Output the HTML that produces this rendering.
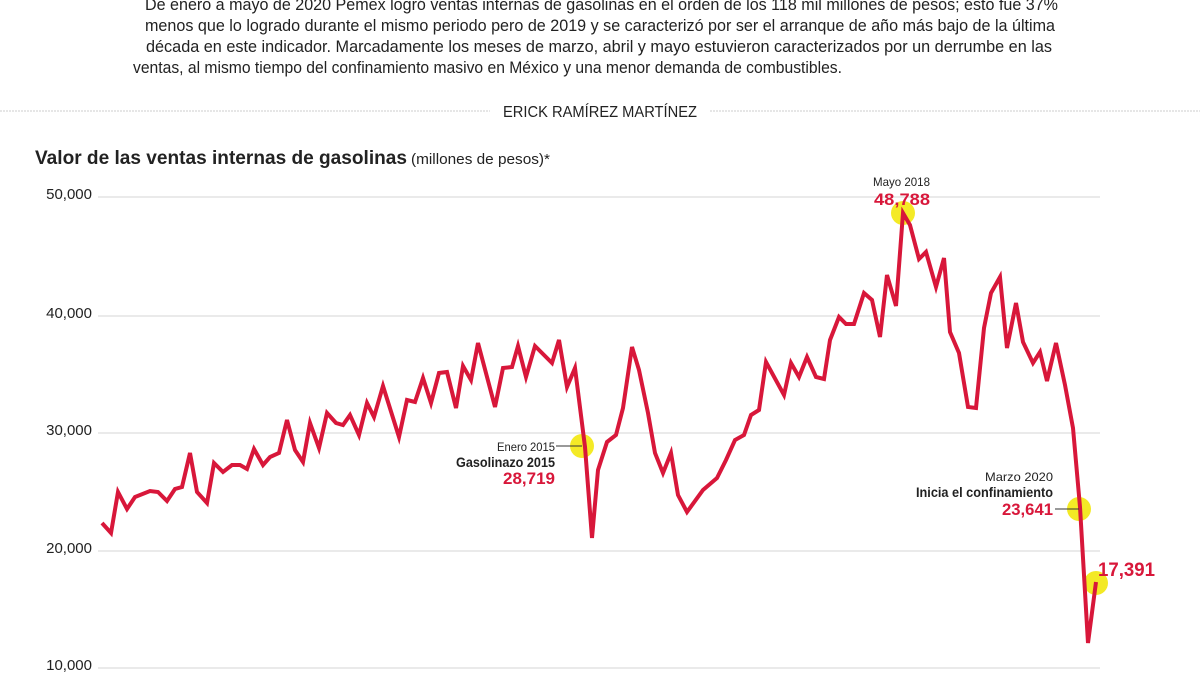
<!DOCTYPE html>
<html><head><meta charset="utf-8"><style>
html,body{margin:0;padding:0;background:#fff;}
body{width:1200px;height:675px;position:relative;overflow:hidden;font-family:"Liberation Sans",sans-serif;}
</style></head><body>
<svg width="1200" height="675" style="position:absolute;left:0;top:0" font-family="Liberation Sans, sans-serif">
<g font-size="17" fill="#222" lengthAdjust="spacingAndGlyphs">
<text x="145" y="10" textLength="913" lengthAdjust="spacingAndGlyphs">De enero a mayo de 2020 Pemex logró ventas internas de gasolinas en el orden de los 118 mil millones de pesos; esto fue 37%</text>
<text x="145" y="31" textLength="910" lengthAdjust="spacingAndGlyphs">menos que lo logrado durante el mismo periodo pero de 2019 y se caracterizó por ser el arranque de año más bajo de la última</text>
<text x="146" y="52" textLength="906" lengthAdjust="spacingAndGlyphs">década en este indicador. Marcadamente los meses de marzo, abril y mayo  estuvieron caracterizados por un derrumbe en las</text>
<text x="133" y="73" textLength="709" lengthAdjust="spacingAndGlyphs">ventas, al mismo tiempo del confinamiento masivo en México y una menor demanda de combustibles.</text>
</g>
<line x1="0" y1="111" x2="490" y2="111" stroke="#ccc" stroke-width="1" stroke-dasharray="2,1"/>
<line x1="710" y1="111" x2="1200" y2="111" stroke="#ccc" stroke-width="1" stroke-dasharray="2,1"/>
<text x="503" y="117" textLength="194" lengthAdjust="spacingAndGlyphs" font-size="16" fill="#222">ERICK RAMÍREZ MARTÍNEZ</text>
<text x="35" y="164" textLength="372" lengthAdjust="spacingAndGlyphs" font-size="19" font-weight="bold" fill="#222">Valor de las ventas internas de gasolinas</text>
<text x="411" y="164" textLength="139" lengthAdjust="spacingAndGlyphs" font-size="15" fill="#222">(millones de pesos)*</text>
<g stroke="#d6d6d6" stroke-width="1">
<line x1="98" y1="197" x2="1100" y2="197"/><line x1="98" y1="316" x2="1100" y2="316"/>
<line x1="98" y1="433" x2="1100" y2="433"/><line x1="98" y1="551" x2="1100" y2="551"/>
<line x1="98" y1="668" x2="1100" y2="668"/></g>
<g font-size="15" fill="#222" text-anchor="end">
<text x="92" y="199">50,000</text><text x="92" y="318">40,000</text><text x="92" y="435">30,000</text><text x="92" y="553">20,000</text><text x="92" y="670">10,000</text></g>
<g fill="#f2e600" opacity="0.85">
<circle cx="582" cy="446" r="12"/><circle cx="903" cy="213" r="12"/><circle cx="1079" cy="509" r="12"/><circle cx="1096" cy="583" r="12"/></g>
<polyline fill="none" stroke="#d8173a" stroke-width="4" points="102,523 111,533 118,492 127,509 135,497 150,491 158,492 167,501 175,489 182,487 190,453 197,492 207,503 214,463 223,472 232,465 240,465 247,469 254,449 263,465 270,457 279,453 287,420 295,450 303,462 310,423 319,448 327,413 336,423 343,425 350,415 359,435 367,403 374,417 383,386 399,437 407,400 415,402 423,378 431,403 439,373 447,372 456,408 463,366 471,380 478,343 495,407 503,368 512,367 518,346 526,377 535,346 552,363 559,340 567,387 575,368 585,447 592,538 598,470 607,442 616,435 623,408 632,347 639,370 648,413 655,453 663,473 671,453 678,495 687,512 703,490 717,478 726,460 735,440 744,435 751,415 759,410 766,362 784,395 791,363 799,377 807,357 816,377 824,379 830,340 839,317 846,324 854,324 864,293 872,300 880,337 887,275 896,306 903,213 910,225 919,259 926,252 936,287 944,258 950,332 959,353 968,407 976,408 984,328 991,293 1000,277 1007,348 1016,303 1023,342 1033,363 1040,352 1047,381 1056,343 1065,385 1073,428 1080,507 1088,643 1096,582"/>
<line x1="556" y1="446" x2="582" y2="446" stroke="#333" stroke-width="1"/>
<text x="497" y="451" textLength="58" lengthAdjust="spacingAndGlyphs" font-size="12" fill="#222">Enero 2015</text>
<text x="456" y="467" textLength="99" lengthAdjust="spacingAndGlyphs" font-size="14" font-weight="bold" fill="#222">Gasolinazo 2015</text>
<text x="503" y="484" textLength="52" lengthAdjust="spacingAndGlyphs" font-size="17" font-weight="bold" fill="#d8173a">28,719</text>
<text x="873" y="186" textLength="57" lengthAdjust="spacingAndGlyphs" font-size="12" fill="#222">Mayo 2018</text>
<text x="874" y="205" textLength="56" lengthAdjust="spacingAndGlyphs" font-size="17" font-weight="bold" fill="#d8173a">48,788</text>
<text x="985" y="481" textLength="68" lengthAdjust="spacingAndGlyphs" font-size="12" fill="#222">Marzo 2020</text>
<text x="916" y="497" textLength="137" lengthAdjust="spacingAndGlyphs" font-size="14" font-weight="bold" fill="#222">Inicia el confinamiento</text>
<text x="1002" y="515" textLength="51" lengthAdjust="spacingAndGlyphs" font-size="17" font-weight="bold" fill="#d8173a">23,641</text>
<line x1="1055" y1="509" x2="1079" y2="509" stroke="#333" stroke-width="1"/>
<text x="1098" y="576" textLength="57" lengthAdjust="spacingAndGlyphs" font-size="19" font-weight="bold" fill="#d8173a">17,391</text>
</svg>
</body></html>
